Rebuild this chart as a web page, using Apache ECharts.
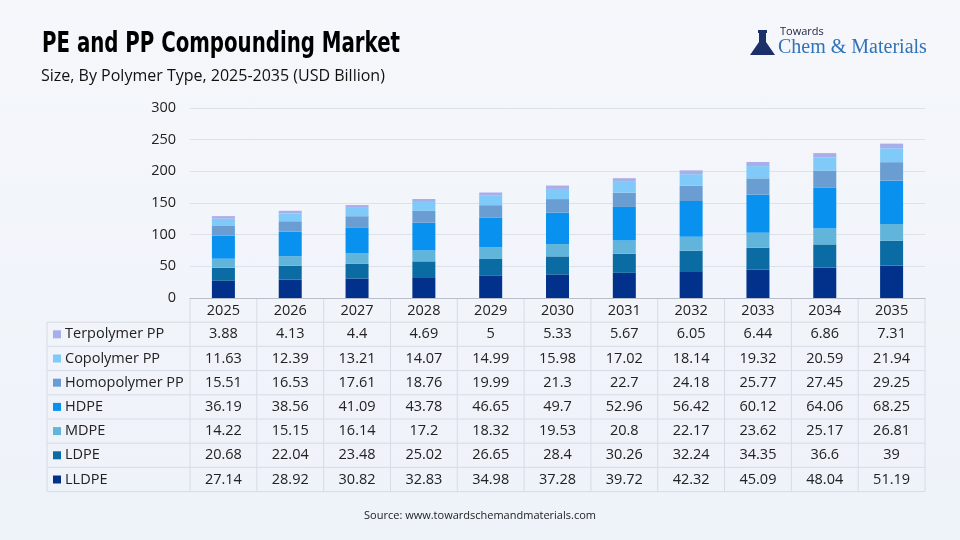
<!DOCTYPE html>
<html>
<head>
<meta charset="utf-8">
<script src="https://cdn.jsdelivr.net/npm/echarts@6/dist/echarts.min.js"></script>
<style>
  html, body { margin: 0; padding: 0; }
  #chart { width: 960px; height: 540px; background: linear-gradient(180deg, #f5f7fb 0%, #eef2f9 100%); }
</style>
</head>
<body>
<div id="chart"></div>
<script>
var years = ['2025', '2026', '2027', '2028', '2029', '2030', '2031', '2032', '2033', '2034', '2035'];
var lldpe = [27.14, 28.92, 30.82, 32.83, 34.98, 37.28, 39.72, 42.32, 45.09, 48.04, 51.19];
var ldpe = [20.68, 22.04, 23.48, 25.02, 26.65, 28.4, 30.26, 32.24, 34.35, 36.6, 39];
var mdpe = [14.22, 15.15, 16.14, 17.2, 18.32, 19.53, 20.8, 22.17, 23.62, 25.17, 26.81];
var hdpe = [36.19, 38.56, 41.09, 43.78, 46.65, 49.7, 52.96, 56.42, 60.12, 64.06, 68.25];
var homoPP = [15.51, 16.53, 17.61, 18.76, 19.99, 21.3, 22.7, 24.18, 25.77, 27.45, 29.25];
var coPP = [11.63, 12.39, 13.21, 14.07, 14.99, 15.98, 17.02, 18.14, 19.32, 20.59, 21.94];
var terPP = [3.88, 4.13, 4.4, 4.69, 5, 5.33, 5.67, 6.05, 6.44, 6.86, 7.31];
var yTicks = [0, 50, 100, 150, 200, 250, 300];

// bottom to top in the stack
var seriesList = [
  { name: 'LLDPE', data: lldpe, color: '#01318a' },
  { name: 'LDPE', data: ldpe, color: '#0b6ba3' },
  { name: 'MDPE', data: mdpe, color: '#62b5da' },
  { name: 'HDPE', data: hdpe, color: '#0891ef' },
  { name: 'Homopolymer PP', data: homoPP, color: '#6a9ed3' },
  { name: 'Copolymer PP', data: coPP, color: '#7fcaf8' },
  { name: 'Terpolymer PP', data: terPP, color: '#a8aeea' }
];

var gridLeft = 190, gridRight = 35, gridTop = 108, axisY = 298;
var rowH = 24.2, tableLeft = 47;
var cellFont = '14.5px "Open Sans"';

var chart = echarts.init(document.getElementById('chart'), null, { renderer: 'canvas' });

var option = {
  animation: false,
  grid: { left: gridLeft, right: gridRight, top: gridTop, bottom: 540 - axisY },
  xAxis: {
    type: 'category',
    data: years,
    axisLine: { lineStyle: { color: '#b9bfca' } },
    axisTick: { show: false },
    axisLabel: { color: '#222', fontSize: 14.5, fontFamily: 'Open Sans', margin: 5 }
  },
  yAxis: {
    type: 'value',
    min: yTicks[0],
    max: yTicks[yTicks.length - 1],
    interval: 50,
    axisLabel: { color: '#222', fontSize: 14.5, fontFamily: 'Open Sans', margin: 14 },
    splitLine: { lineStyle: { color: '#dde2ea' } }
  },
  series: seriesList.map(function (s) {
    return {
      name: s.name,
      type: 'bar',
      stack: 'total',
      barWidth: 23,
      data: s.data,
      itemStyle: { color: s.color }
    };
  }),
  graphic: []
};
chart.setOption(option);

// data table below the axis, built from the same arrays
var g = [];
var lineColor = '#d6dbe4';
var tableBottom = axisY + rowH * 8;
var rightEdge = 960 - gridRight;
var step = (rightEdge - gridLeft) / years.length;

// vertical column lines
for (var i = 0; i <= years.length; i++) {
  var x = gridLeft + step * i;
  g.push({ type: 'line', silent: true, shape: { x1: x, y1: axisY, x2: x, y2: tableBottom }, style: { stroke: lineColor, lineWidth: 1 } });
}
g.push({ type: 'line', silent: true, shape: { x1: tableLeft, y1: axisY + rowH, x2: tableLeft, y2: tableBottom }, style: { stroke: lineColor, lineWidth: 1 } });
// horizontal row lines
for (var r = 1; r <= 8; r++) {
  var y = axisY + rowH * r;
  g.push({ type: 'line', silent: true, shape: { x1: tableLeft, y1: y, x2: rightEdge, y2: y }, style: { stroke: lineColor, lineWidth: 1 } });
}

var rows = seriesList.slice().reverse();
rows.forEach(function (s, ri) {
  var cy = axisY + rowH * (ri + 1.5);
  g.push({ type: 'rect', silent: true, shape: { x: 53, y: cy - 4, width: 8, height: 8 }, style: { fill: s.color } });
  g.push({ type: 'text', silent: true, style: { x: 65, y: cy, text: s.name, fill: '#222', font: cellFont, textVerticalAlign: 'middle' } });
  s.data.forEach(function (v, ci) {
    var cx = chart.convertToPixel({ xAxisIndex: 0 }, ci);
    g.push({ type: 'text', silent: true, style: { x: cx, y: cy, text: String(v), fill: '#222', font: cellFont, textAlign: 'center', textVerticalAlign: 'middle' } });
  });
});

// squeeze the heavy title to the reference width
var titleText = 'PE and PP Compounding Market';
var titleFont = 'bold 28px "DejaVu Sans Condensed"';
var ctx = document.createElement('canvas').getContext('2d');
ctx.font = titleFont;
var titleScale = 358 / ctx.measureText(titleText).width;
g.push({ type: 'text', silent: true, x: 42, y: 31, scaleX: titleScale, style: { x: 0, y: 0, text: titleText, fill: '#000', font: titleFont } });
g.push({ type: 'text', silent: true, style: { x: 41, y: 68, text: 'Size, By Polymer Type, 2025-2035 (USD Billion)', fill: '#111', font: '16px "Open Sans"' } });
g.push({ type: 'text', silent: true, style: { x: 480, y: 516, text: 'Source: www.towardschemandmaterials.com', fill: '#222', font: '11px "Open Sans"', textAlign: 'center', textVerticalAlign: 'middle' } });

// logo
g.push({ type: 'polygon', silent: true, shape: { points: [[759, 33], [766, 33], [766, 42], [775, 55], [750, 55], [759, 42]] }, style: { fill: '#1b2f6b' } });
g.push({ type: 'rect', silent: true, shape: { x: 758, y: 30, width: 9, height: 3 }, style: { fill: '#1b2f6b' } });
g.push({ type: 'text', silent: true, style: { x: 780, y: 32, text: 'Towards', fill: '#1b2340', font: '11px "Open Sans"', textVerticalAlign: 'middle' } });
g.push({ type: 'text', silent: true, style: { x: 778, y: 48, text: 'Chem & Materials', fill: '#2f73b8', font: '20px "Liberation Serif"', textVerticalAlign: 'middle' } });

chart.setOption({ graphic: g });
</script>
</body>
</html>
